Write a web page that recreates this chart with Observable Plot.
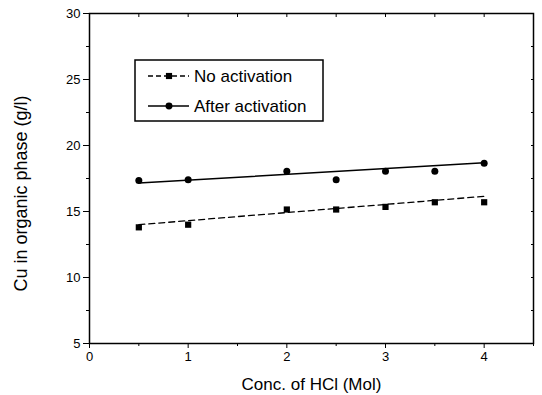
<!DOCTYPE html>
<html>
<head>
<meta charset="utf-8">
<script src="https://cdn.jsdelivr.net/npm/d3@7"></script>
<script src="https://cdn.jsdelivr.net/npm/@observablehq/plot@0.6"></script>
<style>
  html, body { margin: 0; padding: 0; background: white; }
</style>
</head>
<body>
<div id="chart"></div>
<script>
const hcl = [0.5, 1, 2, 2.5, 3, 3.5, 4];
const noActivation = [13.8, 14.0, 15.15, 15.15, 15.35, 15.7, 15.7];
const afterActivation = [17.35, 17.4, 18.05, 17.4, 18.05, 18.05, 18.65];
const fitHcl = [0.5, 4];
const fitNo = [14.0, 16.15];
const fitAfter = [17.15, 18.7];
const xTicks = [0, 1, 2, 3, 4];
const xMinor = [0.5, 1.5, 2.5, 3.5, 4.5];
const yTicks = [5, 10, 15, 20, 25, 30];
const yMinor = [7.5, 12.5, 17.5, 22.5, 27.5];
const seriesNames = ["No activation", "After activation"];
const xTitle = "Conc. of HCl (Mol)";
const yTitle = "Cu in organic phase (g/l)";

const noPts = hcl.map((x, i) => ({x, y: noActivation[i]}));
const afterPts = hcl.map((x, i) => ({x, y: afterActivation[i]}));
const noFit = fitHcl.map((x, i) => ({x, y: fitNo[i]}));
const afterFit = fitHcl.map((x, i) => ({x, y: fitAfter[i]}));

const font = "'Liberation Sans', Arial, Helvetica, sans-serif";

const chart = Plot.plot({
  width: 542,
  height: 395,
  marginLeft: 89,
  marginRight: 9,
  marginTop: 13,
  marginBottom: 52,
  x: {domain: [0, 4.5]},
  y: {domain: [5, 30]},
  style: {fontFamily: font, fontSize: "13px", color: "black", background: "white", overflow: "visible"},
  marks: [
    Plot.axisX({ticks: xTicks, tickFormat: d => String(d), tickSize: 5, tickPadding: 3, label: null, fontSize: 13}),
    Plot.axisX({ticks: xMinor, tickSize: 3, text: null, label: null}),
    Plot.axisY({ticks: yTicks, tickFormat: d => String(d), tickSize: 6, tickPadding: 3, label: null, fontSize: 13}),
    Plot.axisY({ticks: yMinor, tickSize: 3, text: null, label: null}),
    Plot.axisX({anchor: "top", ticks: xTicks.concat(xMinor), tickSize: -3, text: null, label: null}),
    Plot.axisY({anchor: "right", ticks: yTicks.concat(yMinor), tickSize: -3, text: null, label: null}),
    Plot.frame({stroke: "black", strokeWidth: 1.5}),
    Plot.line(noFit, {x: "x", y: "y", stroke: "black", strokeWidth: 1.3, strokeDasharray: "6,4"}),
    Plot.line(afterFit, {x: "x", y: "y", stroke: "black", strokeWidth: 1.5}),
    Plot.dot(noPts, {x: "x", y: "y", symbol: "square", r: 3.5, fill: "black"}),
    Plot.dot(afterPts, {x: "x", y: "y", symbol: "circle", r: 3.5, fill: "black"}),
    Plot.text([xTitle], {frameAnchor: "bottom", textAnchor: "middle", lineAnchor: "middle", dy: 41, fontSize: 17}),
    Plot.text([yTitle], {frameAnchor: "left", textAnchor: "middle", lineAnchor: "middle", rotate: -90, dx: -68, dy: 15, fontSize: 18})
  ]
});

// Legend box inside plot
const svg = d3.select(chart);
const lg = svg.append("g").attr("font-family", font).attr("font-size", 17).attr("text-anchor", "start");
lg.append("rect").attr("x", 135).attr("y", 60).attr("width", 188).attr("height", 61)
  .attr("fill", "white").attr("stroke", "black").attr("stroke-width", 1.5);
const rows = [
  {name: seriesNames[0], y: 76, dash: "5,3", symbol: d3.symbolSquare},
  {name: seriesNames[1], y: 106, dash: null, symbol: d3.symbolCircle}
];
rows.forEach(r => {
  lg.append("line").attr("x1", 148).attr("x2", 189).attr("y1", r.y).attr("y2", r.y)
    .attr("stroke", "black").attr("stroke-width", 1.3).attr("stroke-dasharray", r.dash);
  lg.append("path").attr("d", d3.symbol(r.symbol, 38)()).attr("transform", `translate(169,${r.y})`).attr("fill", "black");
  lg.append("text").attr("x", 194).attr("y", r.y).attr("dy", "0.35em").attr("text-anchor", "start").text(r.name);
});

document.getElementById("chart").appendChild(chart);
</script>
</body>
</html>
